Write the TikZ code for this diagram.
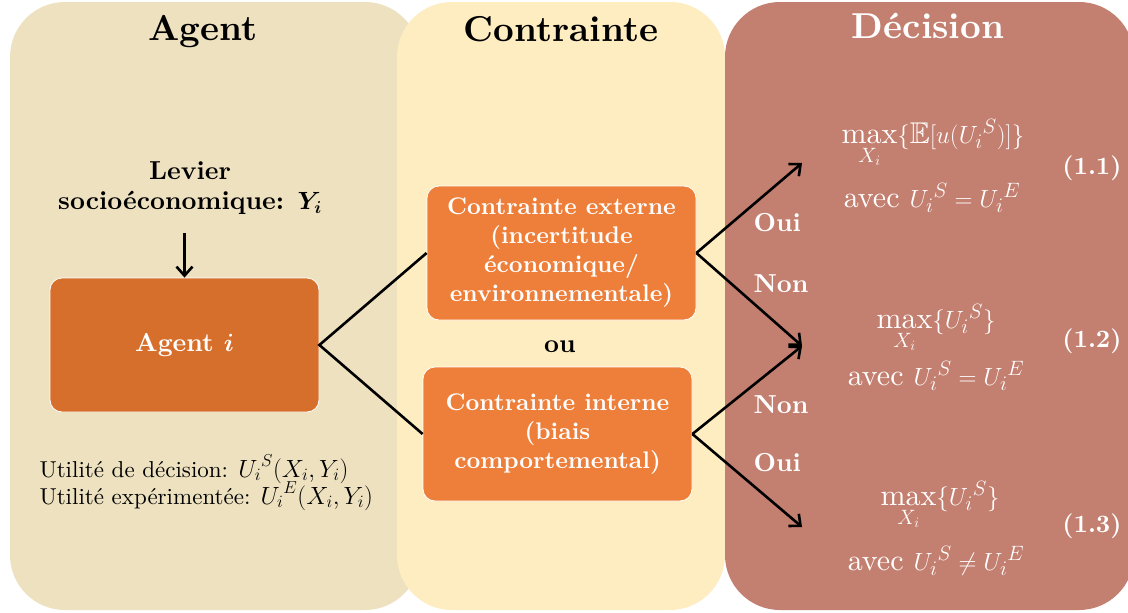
\documentclass[tikz,border=0pt]{standalone}
\usepackage{amsmath,amssymb}
\usepackage{fontspec}
\setmainfont{lmroman10}[Extension=.otf, UprightFont=*-regular, BoldFont=*-bold, ItalicFont=*-italic, BoldItalicFont=*-bolditalic]
\usetikzlibrary{arrows.meta}
\definecolor{agentbg}{HTML}{EDE1C0}
\definecolor{contbg}{HTML}{FEEDC1}
\definecolor{decbg}{HTML}{C37F6F}
\definecolor{agentbox}{HTML}{D76F2C}
\definecolor{contbox}{HTML}{ED7F3A}
\tikzset{
  panel/.style={rounded corners=55pt},
  titletxt/.style={font=\fontsize{36}{42}\selectfont\bfseries, anchor=base},
  orangebox/.style={draw=white, line width=0.8pt, rounded corners=12pt, minimum width=269pt, minimum height=134pt, text=white, align=center, font=\fontsize{24}{29}\selectfont\bfseries},
  conn/.style={line width=2.6pt, line join=miter},
  arr/.style={conn, -{Straight Barb[length=9pt, width=16pt, line width=2.6pt]}},
  lbl/.style={anchor=base west, text=white, font=\fontsize{26}{30}\selectfont\bfseries},
  formula/.style={anchor=base, text=white, font=\fontsize{30}{33}\selectfont},
  eqnum/.style={anchor=base, text=white, font=\fontsize{25}{30}\selectfont\bfseries},
  util/.style={anchor=base west, font=\fontsize{23}{27}\selectfont}
}
\begin{document}
\begin{tikzpicture}[x=1pt,y=-1pt]
\useasboundingbox (0,0) rectangle (1128,613);
\fill[white] (0,0) rectangle (1128,613);
% panels
\fill[agentbg, panel] (10,2) rectangle (420,610);
\fill[contbg, panel] (397,2) rectangle (725,610);
\fill[decbg, panel] (725,2) rectangle (1134,610);
% titles
\node[titletxt] (tagent) at (203,40) {Agent};
\node[titletxt] (tcont) at (561,41) {Contrainte};
\node[titletxt, text=white] (tdec) at (928,38) {Décision};
% agent column
\node[align=center, font=\fontsize{26}{30}\selectfont\bfseries] (lev) at (190,188) {Levier\\socioéconomique: $\boldsymbol{Y_i}$};
\node[orangebox, fill=agentbox, font=\fontsize{26}{29}\selectfont\bfseries] (agent) at (184.5,345) {Agent $\boldsymbol{i}$};
\coordinate (levarr) at (184.5,233);
\draw[arr] (levarr) -- (agent.north);
\node[util] (u1) at (36,477) {Utilité de décision: ${U_i}^{S}(X_i,Y_i)$};
\node[util] (u2) at (36,504) {Utilité expérimentée: ${U_i}^{E}(X_i,Y_i)$};
% contrainte column
\node[orangebox, fill=contbox] (ext) at (561.5,253) {\rule{0pt}{3pt}Contrainte externe\\(incertitude\\économique/\\environnementale)};
\node[anchor=base, font=\fontsize{26}{30}\selectfont\bfseries] (ou) at (560,352) {ou};
\node[orangebox, fill=contbox] (int) at (557.5,434) {Contrainte interne\\(biais\\comportemental)};
\draw[conn] (ext.west) -- (agent.east) -- (int.west);
% decision column
\coordinate (d1) at (802,163);
\coordinate (d2) at (802,346);
\coordinate (d3) at (802,527);
\draw[arr] (ext.east) -- (d1);
\draw[arr] (ext.east) -- (d2);
\draw[arr] (int.east) -- (d2);
\draw[arr] (int.east) -- (d3);
\node[lbl] (o1) at (750,231) {Oui};
\node[lbl] (n1) at (750,292) {Non};
\node[lbl] (n2) at (750,413) {Non};
\node[lbl] (o2) at (750,471) {Oui};
\node[formula] (f1a) at (933,143) {$\max\limits_{X_i}\{\mathbb{E}[u({U_i}^{S})]\}$};
\node[formula] (f1b) at (932,207) {avec ${U_i}^{S}={U_i}^{E}$};
\node[eqnum] (e1) at (1092,174) {(1.1)};
\node[formula] (f2a) at (936,328) {$\max\limits_{X_i}\{{U_i}^{S}\}$};
\node[formula] (f2b) at (936,385) {avec ${U_i}^{S}={U_i}^{E}$};
\node[eqnum] (e2) at (1092,347) {(1.2)};
\node[formula] (f3a) at (940,505) {$\max\limits_{X_i}\{{U_i}^{S}\}$};
\node[formula] (f3b) at (936,570) {avec ${U_i}^{S}\neq{U_i}^{E}$};
\node[eqnum] (e3) at (1092,532) {(1.3)};
\end{tikzpicture}
\end{document}
